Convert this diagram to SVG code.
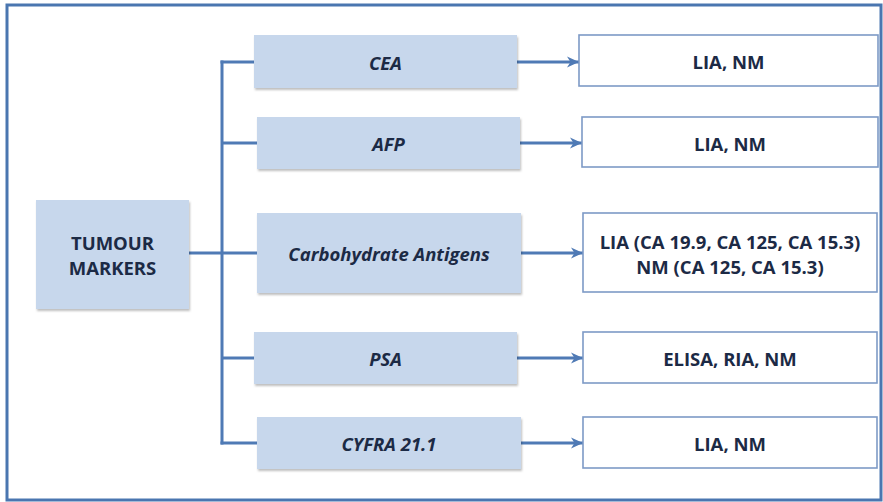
<svg xmlns="http://www.w3.org/2000/svg" width="883" height="502" viewBox="0 0 883 502">
  <defs>
    <marker id="arr" markerWidth="14" markerHeight="14" viewBox="0 0 14 14" refX="13" refY="7" orient="auto" markerUnits="userSpaceOnUse">
      <path d="M1,1.5 L13,7 L1,12.5 L4.5,7 z" fill="#4f7ab5"/>
    </marker>
    <filter id="sh" x="-5%" y="-5%" width="110%" height="120%">
      <feDropShadow dx="1" dy="2" stdDeviation="1" flood-color="#000" flood-opacity="0.25"/>
    </filter>
  </defs>
  <style>
    .frame{fill:#fff;stroke:#4a76b0;stroke-width:3}
    .node{fill:#c7d7ec;filter:url(#sh)}
    .res{fill:#fff;stroke:#7d9ac6;stroke-width:1.6}
    .conn{stroke:#4f7ab5;stroke-width:3;fill:none}
    .t{font-family:"Open Sans","Liberation Sans",sans-serif;font-weight:bold;font-size:18.5px;fill:#1c2a45;text-anchor:middle;dominant-baseline:central}
    .ti{font-style:italic}
  </style>
  <rect class="frame" x="7" y="5" width="874" height="495"/>

  <g id="connectors">
    <line class="conn" x1="222" y1="60.5" x2="222" y2="444.5"/>
    <line class="conn" x1="189" y1="253" x2="257" y2="253"/>
    <line class="conn" x1="220.5" y1="62" x2="254" y2="62"/>
    <line class="conn" x1="222" y1="143" x2="257" y2="143"/>
    <line class="conn" x1="222" y1="358" x2="254" y2="358"/>
    <line class="conn" x1="220.5" y1="443" x2="257" y2="443"/>
    <line class="conn" x1="517" y1="62" x2="579" y2="62" marker-end="url(#arr)"/>
    <line class="conn" x1="520" y1="143" x2="582" y2="143" marker-end="url(#arr)"/>
    <line class="conn" x1="521" y1="253" x2="583" y2="253" marker-end="url(#arr)"/>
    <line class="conn" x1="517" y1="358" x2="583" y2="358" marker-end="url(#arr)"/>
    <line class="conn" x1="521" y1="443" x2="583" y2="443" marker-end="url(#arr)"/>
  </g>

  <g id="tumour-markers">
    <rect class="node" x="36" y="200" width="153" height="109"/>
    <text class="t" x="112.5" y="242">TUMOUR</text>
    <text class="t" x="112.5" y="267">MARKERS</text>
  </g>
  <g id="cea">
    <rect class="node" x="254" y="35" width="263" height="53"/>
    <text class="t ti" x="385.5" y="62">CEA</text>
  </g>
  <g id="afp">
    <rect class="node" x="257" y="117" width="263" height="52"/>
    <text class="t ti" x="388.5" y="143">AFP</text>
  </g>
  <g id="carbohydrate">
    <rect class="node" x="257" y="213" width="264" height="80"/>
    <text class="t ti" x="389" y="253">Carbohydrate Antigens</text>
  </g>
  <g id="psa">
    <rect class="node" x="254" y="332" width="263" height="52"/>
    <text class="t ti" x="385.5" y="358">PSA</text>
  </g>
  <g id="cyfra">
    <rect class="node" x="257" y="417" width="264" height="52"/>
    <text class="t ti" x="389" y="443">CYFRA 21.1</text>
  </g>

  <g id="res-cea">
    <rect class="res" x="579" y="35" width="299" height="51"/>
    <text class="t" x="728.5" y="61">LIA, NM</text>
  </g>
  <g id="res-afp">
    <rect class="res" x="582" y="117" width="296" height="50"/>
    <text class="t" x="730" y="143">LIA, NM</text>
  </g>
  <g id="res-carb">
    <rect class="res" x="583" y="213" width="294" height="79"/>
    <text class="t" x="730" y="241">LIA (CA 19.9, CA 125, CA 15.3)</text>
    <text class="t" x="730" y="266">NM (CA 125, CA 15.3)</text>
  </g>
  <g id="res-psa">
    <rect class="res" x="583" y="332" width="294" height="51"/>
    <text class="t" x="730" y="358">ELISA, RIA, NM</text>
  </g>
  <g id="res-cyfra">
    <rect class="res" x="583" y="417" width="294" height="51"/>
    <text class="t" x="730" y="443">LIA, NM</text>
  </g>
</svg>
